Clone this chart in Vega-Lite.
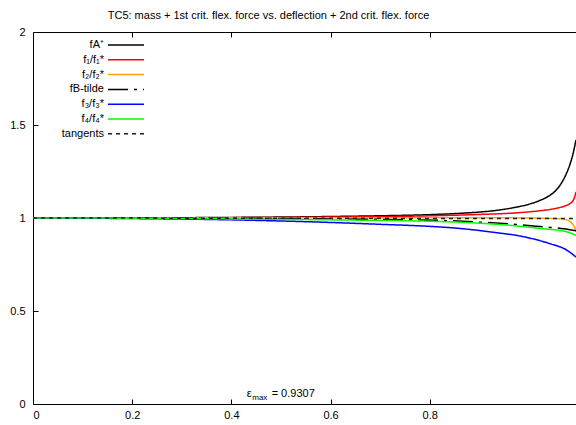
{
  "$schema": "https://vega.github.io/schema/vega-lite/v6.json",
  "width": 543,
  "height": 372,
  "autosize": {"type": "none"},
  "padding": {"left": 33, "top": 32, "right": 0, "bottom": 21},
  "background": "white",
  "title": {
    "text": "TC5: mass + 1st crit. flex. force vs. deflection + 2nd crit. flex. force",
    "fontSize": 11,
    "fontWeight": "normal",
    "font": "Liberation Sans",
    "color": "black",
    "anchor": "middle",
    "frame": "group",
    "dx": -36,
    "dy": 18,
    "baseline": "alphabetic",
    "offset": 14
  },
  "config": {
    "font": "Liberation Sans",
    "view": {"stroke": "black", "strokeWidth": 1},
    "axis": {
      "domain": false,
      "grid": false,
      "tickSize": -5,
      "tickColor": "black",
      "tickWidth": 1,
      "labelColor": "black",
      "labelFont": "Liberation Sans",
      "labelFontSize": 11,
      "format": "~g"
    },
    "axisX": {"labelPadding": 10},
    "axisY": {"labelPadding": 13}
  },
  "resolve": {"axis": {"x": "independent"}},
  "layer": [
    {
      "data": {
        "values": [
          {"series": "fA⁺", "x": 0, "y": 1},
          {"series": "fA⁺", "x": 0.2, "y": 1.001},
          {"series": "fA⁺", "x": 0.4, "y": 1.003},
          {"series": "fA⁺", "x": 0.6, "y": 1.008},
          {"series": "fA⁺", "x": 0.7, "y": 1.012},
          {"series": "fA⁺", "x": 0.8, "y": 1.018},
          {"series": "fA⁺", "x": 0.86, "y": 1.025},
          {"series": "fA⁺", "x": 0.9, "y": 1.032},
          {"series": "fA⁺", "x": 0.94, "y": 1.043},
          {"series": "fA⁺", "x": 0.97, "y": 1.056},
          {"series": "fA⁺", "x": 1.0, "y": 1.074},
          {"series": "fA⁺", "x": 1.02, "y": 1.092},
          {"series": "fA⁺", "x": 1.04, "y": 1.118},
          {"series": "fA⁺", "x": 1.055, "y": 1.15},
          {"series": "fA⁺", "x": 1.065, "y": 1.185},
          {"series": "fA⁺", "x": 1.075, "y": 1.235},
          {"series": "fA⁺", "x": 1.083, "y": 1.29},
          {"series": "fA⁺", "x": 1.089, "y": 1.345},
          {"series": "fA⁺", "x": 1.095, "y": 1.42},
          {"series": "f₁/f₁*", "x": 0, "y": 1},
          {"series": "f₁/f₁*", "x": 0.4, "y": 1.002},
          {"series": "f₁/f₁*", "x": 0.6, "y": 1.005},
          {"series": "f₁/f₁*", "x": 0.82, "y": 1.013},
          {"series": "f₁/f₁*", "x": 0.9, "y": 1.019},
          {"series": "f₁/f₁*", "x": 0.982, "y": 1.029},
          {"series": "f₁/f₁*", "x": 1.022, "y": 1.039},
          {"series": "f₁/f₁*", "x": 1.055, "y": 1.052},
          {"series": "f₁/f₁*", "x": 1.072, "y": 1.064},
          {"series": "f₁/f₁*", "x": 1.083, "y": 1.078},
          {"series": "f₁/f₁*", "x": 1.09, "y": 1.098},
          {"series": "f₁/f₁*", "x": 1.095, "y": 1.14},
          {"series": "f₂/f₂*", "x": 0, "y": 1},
          {"series": "f₂/f₂*", "x": 0.4, "y": 1.001},
          {"series": "f₂/f₂*", "x": 0.6, "y": 1.002},
          {"series": "f₂/f₂*", "x": 0.82, "y": 1.002},
          {"series": "f₂/f₂*", "x": 0.95, "y": 1.001},
          {"series": "f₂/f₂*", "x": 1.022, "y": 0.999},
          {"series": "f₂/f₂*", "x": 1.06, "y": 0.996},
          {"series": "f₂/f₂*", "x": 1.075, "y": 0.991},
          {"series": "f₂/f₂*", "x": 1.083, "y": 0.982},
          {"series": "f₂/f₂*", "x": 1.088, "y": 0.968},
          {"series": "f₂/f₂*", "x": 1.092, "y": 0.95},
          {"series": "f₂/f₂*", "x": 1.095, "y": 0.928},
          {"series": "fB-tilde", "x": 0, "y": 1},
          {"series": "fB-tilde", "x": 0.4, "y": 0.999},
          {"series": "fB-tilde", "x": 0.6, "y": 0.995},
          {"series": "fB-tilde", "x": 0.82, "y": 0.987},
          {"series": "fB-tilde", "x": 0.9, "y": 0.978},
          {"series": "fB-tilde", "x": 0.982, "y": 0.964},
          {"series": "fB-tilde", "x": 1.03, "y": 0.952},
          {"series": "fB-tilde", "x": 1.065, "y": 0.944},
          {"series": "fB-tilde", "x": 1.095, "y": 0.932},
          {"series": "f₃/f₃*", "x": 0, "y": 1},
          {"series": "f₃/f₃*", "x": 0.2, "y": 0.997},
          {"series": "f₃/f₃*", "x": 0.4, "y": 0.99},
          {"series": "f₃/f₃*", "x": 0.6, "y": 0.976},
          {"series": "f₃/f₃*", "x": 0.7, "y": 0.966},
          {"series": "f₃/f₃*", "x": 0.8, "y": 0.955},
          {"series": "f₃/f₃*", "x": 0.86, "y": 0.944},
          {"series": "f₃/f₃*", "x": 0.92, "y": 0.926},
          {"series": "f₃/f₃*", "x": 0.988, "y": 0.9},
          {"series": "f₃/f₃*", "x": 1.04, "y": 0.864},
          {"series": "f₃/f₃*", "x": 1.076, "y": 0.828},
          {"series": "f₃/f₃*", "x": 1.095, "y": 0.79},
          {"series": "f₄/f₄*", "x": 0, "y": 1},
          {"series": "f₄/f₄*", "x": 0.2, "y": 0.999},
          {"series": "f₄/f₄*", "x": 0.4, "y": 0.995},
          {"series": "f₄/f₄*", "x": 0.6, "y": 0.99},
          {"series": "f₄/f₄*", "x": 0.82, "y": 0.981},
          {"series": "f₄/f₄*", "x": 0.955, "y": 0.962},
          {"series": "f₄/f₄*", "x": 1.022, "y": 0.944},
          {"series": "f₄/f₄*", "x": 1.076, "y": 0.926},
          {"series": "f₄/f₄*", "x": 1.095, "y": 0.907},
          {"series": "tangents", "x": 0, "y": 1},
          {"series": "tangents", "x": 1.095, "y": 0.997}
        ]
      },
      "mark": {"type": "line", "strokeWidth": 1.5, "clip": true, "interpolate": "monotone"},
      "encoding": {
        "x": {
          "field": "x", "type": "quantitative", "title": null,
          "scale": {"domain": [0, 1.095], "nice": false, "zero": false},
          "axis": {"orient": "bottom", "values": [0, 0.2, 0.4, 0.6, 0.8]}
        },
        "y": {
          "field": "y", "type": "quantitative", "title": null,
          "scale": {"domain": [0, 2], "nice": false},
          "axis": {"values": [0, 0.5, 1, 1.5, 2]}
        },
        "color": {
          "field": "series", "type": "nominal",
          "scale": {
            "domain": ["fA⁺", "f₁/f₁*", "f₂/f₂*", "fB-tilde", "f₃/f₃*", "f₄/f₄*", "tangents"],
            "range": ["#000000", "#ff0000", "#ffa500", "#000000", "#0000ff", "#00ff00", "#222222"]
          },
          "legend": {
            "title": null, "orient": "none", "legendX": 86, "legendY": 6,
            "symbolType": "M-3,0H3", "symbolSize": 144, "symbolStrokeWidth": 1.5,
            "labelAlign": "right", "labelOffset": -29, "labelFontSize": 11,
            "labelColor": "black", "rowPadding": 2.8, "padding": 0
          }
        },
        "strokeDash": {
          "field": "series", "type": "nominal",
          "scale": {
            "domain": ["fA⁺", "f₁/f₁*", "f₂/f₂*", "fB-tilde", "f₃/f₃*", "f₄/f₄*", "tangents"],
            "range": [[1, 0], [1, 0], [1, 0], [20, 6, 3, 6], [1, 0], [1, 0], [4, 4]]
          },
          "legend": {
            "title": null, "orient": "none", "legendX": 86, "legendY": 6,
            "symbolType": "M-3,0H3", "symbolSize": 144, "symbolStrokeWidth": 1.5,
            "labelAlign": "right", "labelOffset": -29, "labelFontSize": 11,
            "labelColor": "black", "rowPadding": 2.8, "padding": 0
          }
        }
      }
    },
    {
      "data": {"values": [{"x": 0.4308, "y": 0.036, "label": "ε"}]},
      "mark": {"type": "text", "align": "left", "baseline": "alphabetic", "fontSize": 11, "color": "black"},
      "encoding": {
        "x": {
          "field": "x", "type": "quantitative", "title": null,
          "axis": {"orient": "top", "labels": false, "values": [0.2, 0.4, 0.6, 0.8]}
        },
        "y": {"field": "y", "type": "quantitative", "title": null},
        "text": {"field": "label"}
      }
    },
    {
      "data": {"values": [{"x": 0.4308, "y": 0.036, "label": "max"}]},
      "mark": {"type": "text", "align": "left", "baseline": "alphabetic", "fontSize": 8, "dx": 5.6, "dy": 3, "color": "black"},
      "encoding": {
        "x": {"field": "x", "type": "quantitative", "title": null, "axis": null},
        "y": {"field": "y", "type": "quantitative", "title": null},
        "text": {"field": "label"}
      }
    },
    {
      "data": {"values": [{"x": 0.4308, "y": 0.036, "label": "= 0.9307"}]},
      "mark": {"type": "text", "align": "left", "baseline": "alphabetic", "fontSize": 11, "dx": 25, "color": "black"},
      "encoding": {
        "x": {"field": "x", "type": "quantitative", "title": null, "axis": null},
        "y": {"field": "y", "type": "quantitative", "title": null},
        "text": {"field": "label"}
      }
    }
  ]
}
